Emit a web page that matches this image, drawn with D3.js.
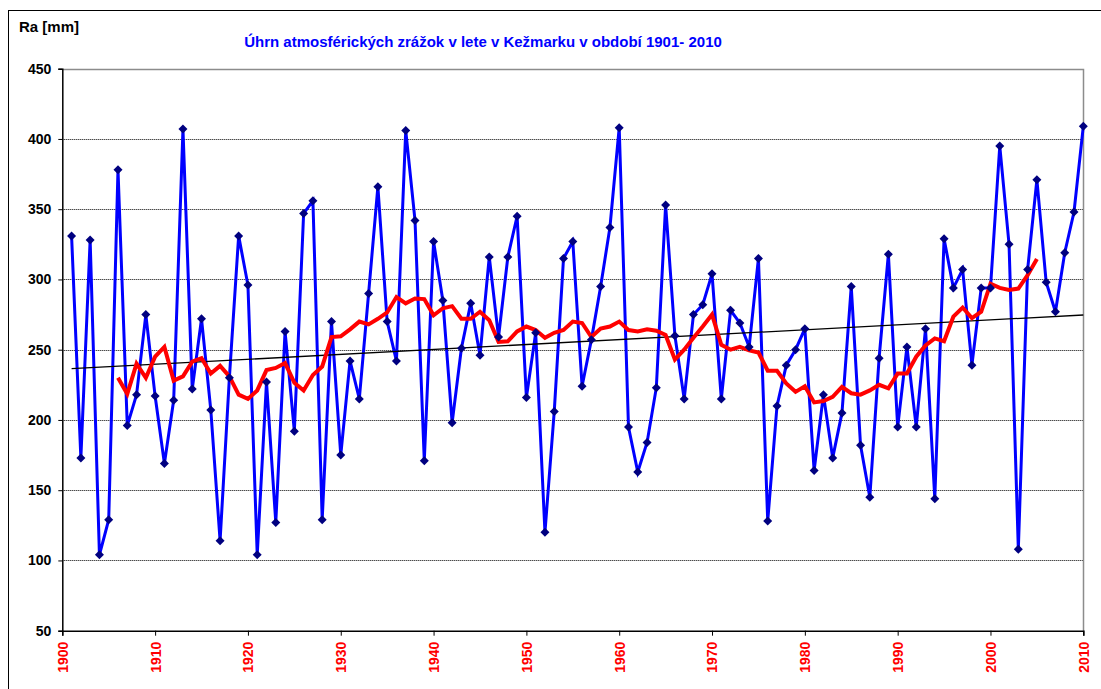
<!DOCTYPE html>
<html><head><meta charset="utf-8">
<script src="https://cdn.jsdelivr.net/npm/d3@7"></script>
<style>body{margin:0;background:#fff}svg{display:block}text{font-family:"Liberation Sans",Arial,sans-serif;font-weight:bold}</style>
</head><body>
<svg id="c" width="1101" height="689"></svg>
<script>
const titleText = "Úhrn atmosférických zrážok v lete v Kežmarku v období 1901- 2010";
const yLabel = "Ra [mm]";
const firstYear = 1901;
const precip = [331,173,328,104,129,378,196,218,275,217,
169,214,407,222,272,207,114,230,331,296,
104,227,127,263,192,347,356,129,270,175,
242,215,290,366,270,242,406,342,171,327,
285,198,251,283,246,316,259,316,345,216,
262,120,206,315,327,224,257,295,337,408,
195,163,184,223,353,260,215,275,282,304,
215,278,269,252,315,128,210,239,250,265,
164,218,173,205,295,182,145,244,318,195,
252,195,265,144,329,294,307,239,294,294,
395,325,108,307,371,298,277,319,348,409];
const maFirstYear = 1906;
const movingAvg = [230,218.5,240,230,245,252,228,231,241.5,244,
233,238.5,231,218,215,221,235.5,237,240.5,226.5,
221,232,238,259,259.5,264.5,270,268,272,276.5,
287.5,283,286.5,286,274.5,279.5,281,272,272,277,
271,255.5,256,263,266.5,264,258.5,262,264,270,
269,259,265,266.5,270,264,263,264.5,263.5,260.5,
243,250,258.5,266.5,275,253.5,250,252,249.5,248,
235,235,226,220,224,212.5,213.5,216.5,223.5,219,
218,221,225,222.5,233,233,245,253,258,256,
273.5,280,272.5,277,297,294,292.5,293.5,303,314.5];
const trendYears = [1901, 2010];
const trendValues = [236.5, 274.7];
const yTicks = [50,100,150,200,250,300,350,400,450];
const xTicks = [1900,1910,1920,1930,1940,1950,1960,1970,1980,1990,2000,2010];

const svg = d3.select("#c");
const L = 62.3, R = 1083.3, T = 68.7, B = 630.7;
const x = d3.scaleLinear().domain([1900, 2010]).range([L, R]);
const y = d3.scaleLinear().domain([50, 450]).range([B, T]);

// outer frame
svg.append("rect").attr("x", 8.5).attr("y", 10.5).attr("width", 1110).attr("height", 700)
  .attr("fill", "none").attr("stroke", "#000").attr("stroke-width", 1);

// gridlines
svg.append("g").selectAll("line").data(yTicks.filter(v => v > 50 && v < 450)).join("line")
  .attr("x1", L).attr("x2", R).attr("y1", d => Math.round(y(d)) + 0.5).attr("y2", d => Math.round(y(d)) + 0.5)
  .attr("stroke", "#000").attr("stroke-width", 1).attr("stroke-dasharray", "1,1");
// top & right border
svg.append("path").attr("d", `M${L},${Math.round(T)+0.5}H${Math.round(R)+0.5}V${B}`)
  .attr("fill", "none").attr("stroke", "#8c8c8c").attr("stroke-width", 1.5);

// axes
const yAxis = svg.append("g").attr("transform", `translate(${L},0)`)
  .call(d3.axisLeft(y).tickValues(yTicks).tickSize(4).tickPadding(7).tickFormat(d3.format("d")));
yAxis.select(".domain").attr("stroke", "#000").attr("stroke-width", 1.5);
yAxis.selectAll(".tick line").attr("stroke", "#000");
yAxis.selectAll("text").attr("font-size", 14).attr("fill", "#000").attr("font-family", '"Liberation Sans",Arial,sans-serif');

const xAxis = svg.append("g").attr("transform", `translate(0,${B})`)
  .call(d3.axisBottom(x).tickValues(xTicks).tickSize(5).tickFormat(d3.format("d")));
xAxis.select(".domain").attr("stroke", "#000").attr("stroke-width", 1.5);
xAxis.selectAll(".tick line").attr("stroke", "#000");
xAxis.selectAll("text").attr("font-size", 14).attr("fill", "#ff0000")
  .attr("font-family", '"Liberation Sans",Arial,sans-serif')
  .attr("text-anchor", "end").attr("dy", "0.35em")
  .attr("transform", "translate(0,11) rotate(-90)").attr("x", 0).attr("y", 0);

const precipData = precip.map((v, i) => [firstYear + i, v]);
const maData = movingAvg.map((v, i) => [maFirstYear + i, v]);
const line = d3.line().x(d => x(d[0])).y(d => y(d[1]));

// blue series
svg.append("path").datum(precipData).attr("d", line)
  .attr("fill", "none").attr("stroke", "#0000ff").attr("stroke-width", 3).attr("stroke-linejoin", "miter");
// trend
svg.append("path").datum(trendYears.map((t, i) => [t, trendValues[i]])).attr("d", line)
  .attr("fill", "none").attr("stroke", "#000").attr("stroke-width", 1.3);
// moving average
svg.append("path").datum(maData).attr("d", line)
  .attr("fill", "none").attr("stroke", "#ff0000").attr("stroke-width", 4).attr("stroke-linejoin", "miter");
// markers
svg.append("g").selectAll("path").data(precipData).join("path")
  .attr("d", d => { const cx = x(d[0]), cy = y(d[1]), h = 4.5; return `M${cx},${cy-h}L${cx+h},${cy}L${cx},${cy+h}L${cx-h},${cy}Z`; })
  .attr("fill", "#000080");

// texts
svg.append("text").attr("x", 19).attr("y", 32).attr("font-size", 15).attr("fill", "#000").text(yLabel);
svg.append("text").attr("x", 483).attr("y", 47).attr("text-anchor", "middle").attr("font-size", 15)
  .attr("fill", "#0000ff").text(titleText);
</script>
</body></html>
